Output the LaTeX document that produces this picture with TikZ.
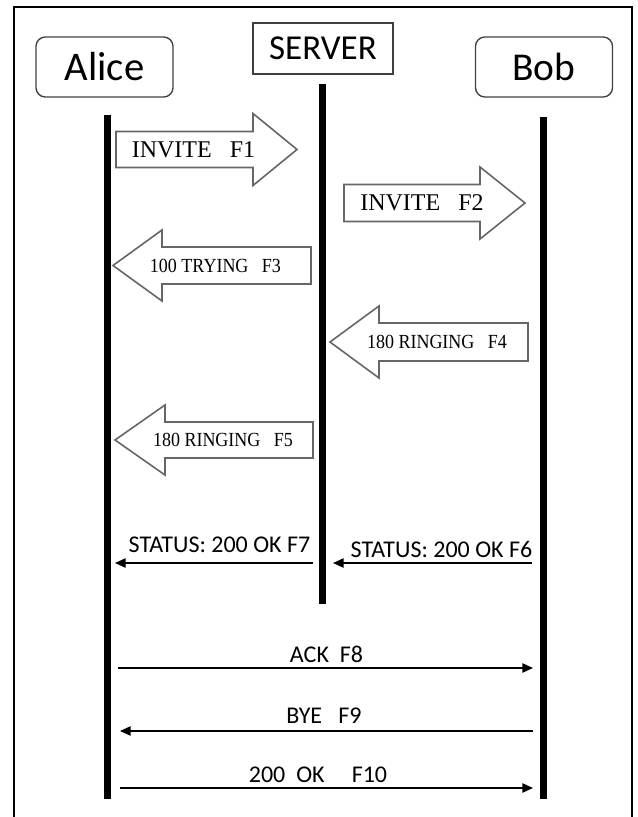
\documentclass[tikz,border=0pt]{standalone}
\usepackage{fontspec}
\usepackage{graphicx}
\setmainfont{Liberation Serif}
\newfontfamily\calibri{Carlito}
\usetikzlibrary{arrows.meta}

\begin{document}
\begin{tikzpicture}[
    x=0.75pt, y=-0.75pt,
    font=\calibri,
    frameline/.style={line width=1.5pt, draw=black},
    partybox/.style={draw=black!75, line width=1pt, rounded corners=7pt, minimum width=102.75pt, minimum height=45pt, inner sep=0pt},
    serverbox/.style={draw=black!75, line width=1pt, minimum width=105pt, minimum height=38.25pt, inner sep=0pt},
    lifeline/.style={line width=5.25pt, draw=black},
    fatarrow/.style={draw=black!60, line width=1.2pt, fill=white, line join=miter},
    bigtext/.style={font=\rmfamily\fontsize{18}{20}\selectfont, inner sep=0pt},
    smalltext/.style={font=\rmfamily\fontsize{15}{17}\selectfont, inner sep=0pt},
    msg/.style={-{Triangle[length=8pt, width=7pt]}, line width=1.1pt},
    msglabel/.style={font=\calibri\fontsize{18}{20}\selectfont, anchor=base, inner sep=0pt}
]
    \useasboundingbox (0,0) rectangle (638,817);

    % Cadre ouvert en bas
    \draw[frameline] (14,817) -- (14,7) -- (632,7) -- (632,817);

    % Participants
    \node[partybox] (alice) at (104.5,67) {\fontsize{30.5}{34}\selectfont Alice};
    \node[serverbox] (server) at (323,48.5) {\fontsize{26.25}{30}\selectfont SERVER};
    \node[partybox] (bob) at (544,67) {\fontsize{29.6}{34}\selectfont Bob};

    % Lignes de vie
    \coordinate (aliceTop) at (107,115);
    \coordinate (aliceEnd) at (107,799);
    \coordinate (serverTop) at (322,84);
    \coordinate (serverEnd) at (322,604);
    \coordinate (bobTop) at (543,117);
    \coordinate (bobEnd) at (543,799);
    \draw[lifeline] (aliceTop) -- (aliceEnd);
    \draw[lifeline] (serverTop) -- (serverEnd);
    \draw[lifeline] (bobTop) -- (bobEnd);

    % Flèches larges (F1 - F5)
    \draw[fatarrow] (116,131.5) -- (253,131.5) -- (253,113.5) -- (297,149.5) -- (253,185.5) -- (253,167.5) -- (116,167.5) -- cycle;
    \node[bigtext] (f1) at (193.5,149.5) {INVITE\ \ \ F1};

    \draw[fatarrow] (344,184.5) -- (480,184.5) -- (480,167) -- (525,203) -- (480,239) -- (480,221.5) -- (344,221.5) -- cycle;
    \node[bigtext] (f2) at (422,203) {INVITE\ \ \ F2};

    \draw[fatarrow] (311,247) -- (162,247) -- (162,230) -- (113,265.5) -- (162,301) -- (162,284) -- (311,284) -- cycle;
    \node[smalltext] (f3) at (215.5,265.5) {\scalebox{0.9}[1]{100 TRYING\ \ \ F3}};

    \draw[fatarrow] (528,323) -- (379,323) -- (379,306) -- (330,342) -- (379,378) -- (379,361) -- (528,361) -- cycle;
    \node[smalltext] (f4) at (437,342) {\scalebox{0.9}[1]{180 RINGING\ \ \ F4}};

    \draw[fatarrow] (313,422) -- (165,422) -- (165,405) -- (115,440) -- (165,475) -- (165,458) -- (313,458) -- cycle;
    \node[smalltext] (f5) at (223,440) {\scalebox{0.9}[1]{180 RINGING\ \ \ F5}};

    % Messages simples (F6 - F10)
    \coordinate (s7) at (313,563);
    \coordinate (a7) at (115,563);
    \coordinate (b6) at (532,563);
    \coordinate (s6) at (333,563);
    \coordinate (a8) at (118,668);
    \coordinate (b8) at (533,668);
    \coordinate (b9) at (533,731);
    \coordinate (a9) at (120,731);
    \coordinate (a10) at (120,788);
    \coordinate (b10) at (533,788);

    \draw[msg] (s7) -- (a7);
    \node[msglabel] (l7) at (219.5,552) {STATUS: 200 OK F7};
    \draw[msg] (b6) -- (s6);
    \node[msglabel] (l6) at (441.5,557) {STATUS: 200 OK F6};
    \draw[msg] (a8) -- (b8);
    \node[msglabel] (l8) at (326.5,662) {ACK\ \ F8};
    \draw[msg] (b9) -- (a9);
    \node[msglabel] (l9) at (324,723) {BYE\ \ \ F9};
    \draw[msg] (a10) -- (b10);
    \node[msglabel] (l10) at (318,782) {200\ \ OK\ \ \ \ \ F10};

\end{tikzpicture}
\end{document}
